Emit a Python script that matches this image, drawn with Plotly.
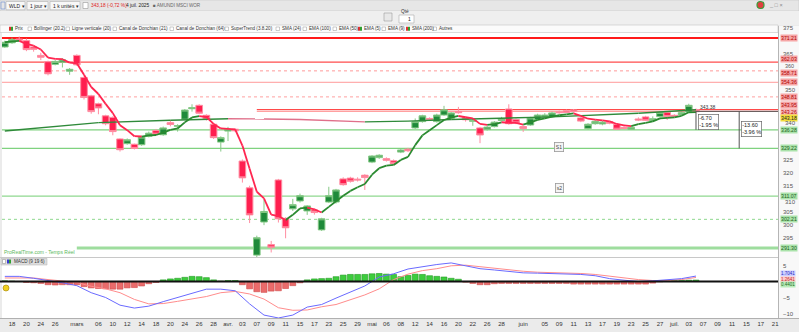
import plotly.graph_objects as go
import pandas as pd

W, H = 799, 332

# ---------------- data ----------------
dates = [
 "2025-02-17","2025-02-18","2025-02-19","2025-02-20","2025-02-21","2025-02-24","2025-02-25","2025-02-26","2025-02-27","2025-02-28",
 "2025-03-03","2025-03-04","2025-03-05","2025-03-06","2025-03-07","2025-03-10","2025-03-11","2025-03-12","2025-03-13","2025-03-14",
 "2025-03-17","2025-03-18","2025-03-19","2025-03-20","2025-03-21","2025-03-24","2025-03-25","2025-03-26","2025-03-27","2025-03-28","2025-03-31",
 "2025-04-01","2025-04-02","2025-04-03","2025-04-04","2025-04-07","2025-04-08","2025-04-09","2025-04-10","2025-04-11",
 "2025-04-14","2025-04-15","2025-04-16","2025-04-17","2025-04-22","2025-04-23","2025-04-24","2025-04-25","2025-04-28","2025-04-29","2025-04-30",
 "2025-05-02","2025-05-05","2025-05-06","2025-05-07","2025-05-08","2025-05-09","2025-05-12","2025-05-13","2025-05-14","2025-05-15","2025-05-16",
 "2025-05-19","2025-05-20","2025-05-21","2025-05-22","2025-05-23","2025-05-26","2025-05-27","2025-05-28","2025-05-29","2025-05-30",
 "2025-06-02","2025-06-03","2025-06-04","2025-06-05","2025-06-06","2025-06-09","2025-06-10","2025-06-11","2025-06-12","2025-06-13",
 "2025-06-16","2025-06-17","2025-06-18","2025-06-19","2025-06-20","2025-06-23","2025-06-24","2025-06-25","2025-06-26","2025-06-27","2025-06-30",
 "2025-07-01","2025-07-02","2025-07-03","2025-07-04","2025-07-07","2025-07-08","2025-07-09","2025-07-10","2025-07-11",
 "2025-07-14","2025-07-15","2025-07-16","2025-07-17","2025-07-18","2025-07-21",
]

opens = [367.8,369.4,370.8,370.2,367.8,364.6,362.2,361.2,362.0,358.6,
 364.6,356.2,349.2,346.2,341.6,341.0,332.8,331.0,330.8,330.6,
 333.8,336.0,334.4,339.0,337.6,340.3,344.3,345.6,341.8,338.4,
 331.6,335.8,336.5,324.4,314.2,288.6,301.2,292.6,317.2,302.6,
 306.2,309.2,305.4,305.8,298.2,308.8,308.8,317.6,317.9,317.5,
 319.0,324.0,325.7,325.3,324.5,327.8,328.9,337.0,339.4,340.6,
 339.4,341.9,340.7,343.2,340.9,339.5,337.0,336.4,337.5,339.8,
 344.2,340.2,337.5,338.1,340.2,341.1,341.3,343.1,343.5,343.8,
 340.8,336.8,338.6,338.5,339.4,338.3,337.2,336.5,340.4,341.2,
 339.8,341.3,342.9,341.8,342.0,343.1,344.0]
highs = [370.2,371.3,371.8,371.0,368.5,365.6,362.6,362.8,363.6,359.8,
 365.0,356.6,349.6,346.6,342.0,341.4,333.0,333.0,331.0,334.0,
 335.6,336.6,337.5,340.0,338.4,344.2,346.0,346.0,342.2,338.8,
 333.8,337.4,336.8,325.0,315.0,296.0,309.8,294.0,317.6,303.0,
 310.0,312.0,307.6,306.4,302.8,314.6,313.8,318.2,318.4,318.2,
 319.4,326.6,327.0,325.8,325.0,329.0,329.4,340.6,342.0,341.0,
 342.4,345.4,343.0,345.0,341.4,340.4,337.4,337.7,339.6,341.2,
 346.0,340.6,337.9,341.2,342.4,342.6,343.2,343.6,344.0,344.2,
 341.2,338.8,340.0,339.6,339.8,338.6,337.6,337.6,341.0,341.6,
 341.4,343.2,343.2,342.2,343.2,346.2,344.4]
lows = [367.5,369.0,369.8,366.2,366.0,362.8,357.0,360.8,360.0,357.2,
 360.6,347.8,342.4,342.2,338.0,334.2,328.0,330.6,328.8,330.2,
 333.4,334.2,334.0,337.6,335.6,340.0,343.2,342.2,339.8,332.8,
 328.0,332.0,335.4,316.2,300.8,287.6,300.0,289.6,301.0,295.0,
 305.4,308.6,303.9,304.0,297.8,308.4,308.2,315.0,316.2,316.6,
 313.4,323.6,325.2,324.2,323.0,327.4,327.8,336.6,339.0,339.6,
 339.0,341.6,340.3,342.4,339.4,337.8,331.2,336.0,337.2,339.4,
 338.2,338.4,335.5,337.8,339.8,340.8,341.0,342.4,342.6,342.8,
 339.2,336.4,338.2,338.0,338.4,336.2,336.4,336.2,339.6,339.6,
 339.4,341.0,340.0,341.0,341.6,342.8,342.8]
closes = [369.6,370.6,370.4,366.8,366.9,363.9,357.6,362.3,362.9,359.3,
 361.0,348.6,343.2,344.6,338.6,335.6,328.7,332.5,329.2,333.5,
 335.0,334.6,337.0,338.3,337.9,343.8,344.7,342.6,340.4,333.3,
 333.3,336.4,335.9,318.0,303.9,295.2,305.2,291.6,302.4,299.0,
 307.8,311.2,307.3,304.8,302.4,311.2,313.4,315.4,316.7,317.2,
 318.1,326.3,326.6,324.7,323.4,328.6,328.3,339.4,341.6,340.1,
 341.9,343.9,342.7,342.8,340.1,339.8,334.3,337.3,339.2,340.5,
 338.6,338.9,336.8,340.8,341.9,341.9,342.7,342.8,342.9,343.2,
 339.6,338.4,339.5,339.2,338.8,336.5,336.8,337.2,340.0,339.9,
 340.5,342.9,341.3,341.4,342.8,345.6,343.18]

# long moving average (SMA 200) read at sample days
sma200_days = ["2025-02-17","2025-03-06","2025-03-20","2025-04-01","2025-04-08","2025-04-15",
               "2025-04-30","2025-05-09","2025-05-19","2025-06-06","2025-06-24","2025-07-04"]
sma200_vals = [335.8, 339.0, 339.9, 340.5, 340.4, 340.2, 339.3, 339.6, 340.2, 341.2, 342.6, 343.9]

# MACD lines read every second session, histogram daily
macd_vals = [1.6,1.6,1.0,0.4,-0.4,-1.3,-3.5,-5.0,-7.4,-8.3,-7.7,-6.3,-5.0,-3.5,-2.4,-2.4,-2.9,-7.0,
             -10.5,-11.4,-10.5,-8.0,-7.2,-5.2,-3.4,-1.4,1.4,2.4,3.9,4.7,5.3,5.8,5.0,4.0,3.6,3.2,2.7,
             2.6,2.5,2.4,2.2,1.8,0.9,0.4,0.0,0.2,0.5,0.9,1.7]
signal_vals = [1.1,1.1,1.1,0.6,0.2,-0.3,-1.5,-2.3,-3.5,-5.6,-7.0,-6.9,-6.2,-5.4,-4.7,-3.5,-3.1,-3.9,
               -5.5,-8.2,-9.0,-8.9,-7.9,-7.2,-5.8,-4.2,-2.3,0.6,2.3,3.4,4.0,4.9,5.1,4.6,4.1,3.7,3.2,
               2.9,2.8,2.7,2.5,2.2,1.6,1.0,0.6,0.3,0.3,0.6,1.26]
macd_hist = [0.2,0.1,0.0,-0.3,-0.4,-0.6,-1.0,-1.1,-1.0,-1.0,
 -1.0,-1.6,-2.0,-2.2,-2.3,-2.4,-2.4,-2.0,-1.9,-1.4,
 -0.7,-0.3,0.5,0.8,1.0,1.3,1.6,1.5,1.2,0.5,
 0.1,0.3,0.3,-1.0,-2.3,-3.2,-3.4,-3.0,-2.9,-2.2,
 -1.3,-0.4,0.5,0.8,0.9,1.0,1.5,2.0,2.2,2.2,
 2.2,2.4,2.5,2.3,2.2,1.5,1.9,2.3,2.2,1.8,
 1.6,1.4,1.0,0.7,-0.2,-0.6,-1.0,-1.0,-0.7,-0.6,
 -0.6,-0.6,-0.6,-0.6,-0.6,-0.6,-0.6,-0.6,-0.6,-0.8,
 -0.8,-0.8,-0.8,-0.8,-0.8,-0.8,-0.8,-0.8,-0.8,-0.8,
 -0.5,-0.1,0.1,0.3,0.3,0.4,0.44]
macd_labels = ["1.7041", "1.2641", "0.4401"]

# horizontal levels
res_levels = [371.21, 362.03, 358.71, 354.36, 348.81]
sup_levels = [336.28, 329.22, 311.07, 302.21]
recent_levels = [343.95, 343.26]
floor_level = 291.30
last_price = 343.18

# price-axis ticks on the axis, and the ones that sit beside level labels
price_ticks = [295, 300, 305, 315, 320, 325, 365, 375]
nudged_ticks = [360, 350, 340, 310]

tick_dates = ["2025-02-18","2025-02-20","2025-02-24","2025-02-26","2025-03-03","2025-03-06","2025-03-10","2025-03-12",
 "2025-03-14","2025-03-18","2025-03-20","2025-03-24","2025-03-26","2025-03-28","2025-04-01","2025-04-03","2025-04-07",
 "2025-04-09","2025-04-11","2025-04-15","2025-04-17","2025-04-23","2025-04-25","2025-04-29","2025-05-02","2025-05-06",
 "2025-05-08","2025-05-12","2025-05-14","2025-05-16","2025-05-20","2025-05-22","2025-05-26","2025-05-28","2025-06-02",
 "2025-06-05","2025-06-09","2025-06-11","2025-06-13","2025-06-17","2025-06-19","2025-06-23","2025-06-25","2025-06-27",
 "2025-07-01","2025-07-03","2025-07-07","2025-07-09","2025-07-11","2025-07-15","2025-07-17","2025-07-21"]
tick_text = ["18","20","24","26","mars","06","10","12","14","18","20","24","26","28","avr.","03","07","09","11","15","17",
 "23","25","29","mai","06","08","12","14","16","20","22","26","28","juin","05","09","11","13","17","19","23","25","27",
 "juil.","03","07","09","11","15","17","21"]

# ---------------- helpers ----------------
FONT = "Liberation Sans"
xs = list(range(len(closes)))
pos = {d: i for i, d in enumerate(dates)}


def px(x):
    return x / W


def py(y):
    return 1 - y / H


def split_updown(xv, yv):
    ux, uy, dx, dy = [], [], [], []
    for k in range(len(yv) - 1):
        if yv[k + 1] >= yv[k]:
            ux += [xv[k], xv[k + 1], None]; uy += [yv[k], yv[k + 1], None]
        else:
            dx += [xv[k], xv[k + 1], None]; dy += [yv[k], yv[k + 1], None]
    return ux, uy, dx, dy


shapes = []
annos = []


def rect(x0, y0, x1, y1, fill, line=None, lw=0.6, layer="above"):
    shapes.append(dict(type="rect", xref="paper", yref="paper", x0=px(x0), x1=px(x1), y0=py(y1), y1=py(y0),
                       fillcolor=fill, line=dict(color=line or fill, width=lw if line else 0), layer=layer))


def pline(x0, y0, x1, y1, color, width=1, dash="solid", layer="above"):
    shapes.append(dict(type="line", xref="paper", yref="paper", x0=px(x0), x1=px(x1), y0=py(y0), y1=py(y1),
                       line=dict(color=color, width=width, dash=dash), layer=layer))


def text(x, y, s, size=6, color="#333", anchor="left", bg=None, border=None, font=FONT):
    a = dict(xref="paper", yref="paper", x=px(x), y=py(y), text=s, showarrow=False, xanchor=anchor,
             yanchor="middle", font=dict(family=font, size=size, color=color), borderpad=0)
    if bg:
        a["bgcolor"] = bg
    if border:
        a["bordercolor"] = border
        a["borderwidth"] = 0.6
    annos.append(a)


fig = go.Figure()

# ---------------- price panel ----------------
fig.add_trace(go.Candlestick(
    x=xs, open=opens, high=highs, low=lows, close=closes, xaxis="x", yaxis="y",
    increasing=dict(line=dict(color="#86c986", width=1), fillcolor="#1f8a3a"),
    decreasing=dict(line=dict(color="#ff8ea2", width=1), fillcolor="#ff1f4f"),
    whiskerwidth=0, hoverinfo="skip", showlegend=False))

sx = [pos[d] for d in sma200_days]
ux, uy, dx, dy = split_updown(sx, sma200_vals)
fig.add_trace(go.Scatter(x=ux, y=uy, mode="lines", line=dict(color="#2f8a3a", width=1.4), xaxis="x", yaxis="y",
                         hoverinfo="skip", showlegend=False))
fig.add_trace(go.Scatter(x=dx, y=dy, mode="lines", line=dict(color="#e0708a", width=1.4), xaxis="x", yaxis="y",
                         hoverinfo="skip", showlegend=False))

ema5 = pd.Series(closes).ewm(span=5, adjust=False).mean().tolist()
ux, uy, dx, dy = split_updown(xs, ema5)
fig.add_trace(go.Scatter(x=ux, y=uy, mode="lines", line=dict(color="#2a8a30", width=1.8), xaxis="x", yaxis="y",
                         hoverinfo="skip", showlegend=False))
fig.add_trace(go.Scatter(x=dx, y=dy, mode="lines", line=dict(color="#ff2650", width=1.8), xaxis="x", yaxis="y",
                         hoverinfo="skip", showlegend=False))

# ---------------- MACD panel ----------------
step = 2
mx = [i * step for i in range(len(macd_vals))]
hist_col = ["#3dcc3d" if v >= 0 else "#ea6b6b" for v in macd_hist]
hist_line = ["#229a22" if v >= 0 else "#d04848" for v in macd_hist]
fig.add_trace(go.Bar(x=xs, y=macd_hist, marker=dict(color=hist_col, line=dict(color=hist_line, width=0.6)),
                     width=0.82, xaxis="x2", yaxis="y2", hoverinfo="skip", showlegend=False))
fig.add_trace(go.Scatter(x=mx, y=signal_vals, mode="lines", line=dict(color="#ff8c8c", width=1),
                         xaxis="x2", yaxis="y2", hoverinfo="skip", showlegend=False))
fig.add_trace(go.Scatter(x=mx, y=macd_vals, mode="lines", line=dict(color="#6a6aff", width=1),
                         xaxis="x2", yaxis="y2", hoverinfo="skip", showlegend=False))

# ---------------- level lines ----------------
XL, XR_ = px(2), px(778)
res_style = [("#ff1a1a", 2.2, "solid"), ("#ff4d4d", 1.2, "solid"), ("#ff9a9a", 1, "dot"),
             ("#ff9a9a", 1, "solid"), ("#ffa0a0", 1, "dot")]
for v, (c, w, d) in zip(res_levels, res_style):
    shapes.append(dict(type="line", xref="paper", yref="y", x0=XL, x1=XR_, y0=v, y1=v,
                       line=dict(color=c, width=w, dash=d), layer="below"))
sup_style = [("#7fd27f", 1.2, "solid"), ("#7fd27f", 1.2, "solid"), ("#8fd88f", 1.2, "solid"), ("#8fd88f", 1, "dot")]
for v, (c, w, d) in zip(sup_levels, sup_style):
    shapes.append(dict(type="line", xref="paper", yref="y", x0=XL, x1=XR_, y0=v, y1=v,
                       line=dict(color=c, width=w, dash=d), layer="below"))
for v, (c, w) in zip(recent_levels, [("#ff4a4a", 1.4), ("#ff9c9c", 1)]):
    shapes.append(dict(type="line", xref="x", yref="y", x0=pos["2025-04-07"], x1=107.39, y0=v, y1=v,
                       line=dict(color=c, width=w), layer="below"))
shapes.append(dict(type="line", xref="x", yref="y", x0=pos["2025-03-03"], x1=107.39, y0=floor_level, y1=floor_level,
                   line=dict(color="#9edd9e", width=3), layer="below"))

# measurement tool
meas_base = 343.3
shapes.append(dict(type="line", xref="x", yref="y", x0=pos["2025-07-04"], x1=107.39, y0=meas_base, y1=meas_base,
                   line=dict(color="#555555", width=1)))
shapes.append(dict(type="line", xref="x", yref="y", x0=pos["2025-07-04"], x1=pos["2025-07-04"], y0=meas_base,
                   y1=sup_levels[0], line=dict(color="#555555", width=1)))
shapes.append(dict(type="line", xref="x", yref="y", x0=pos["2025-07-14"], x1=pos["2025-07-14"], y0=meas_base,
                   y1=sup_levels[1], line=dict(color="#555555", width=1)))
annos.append(dict(xref="x", yref="y", x=pos["2025-07-04"] + 0.25, y=339.4, text="-6.70<br>-1.95 %", showarrow=False,
                  xanchor="left", yanchor="middle", align="left", font=dict(family=FONT, size=5.5, color="#222"),
                  bgcolor="white", bordercolor="#666", borderwidth=0.7, borderpad=0.5))
annos.append(dict(xref="x", yref="y", x=pos["2025-07-14"] + 0.25, y=336.4, text="-13.60<br>-3.96 %", showarrow=False,
                  xanchor="left", yanchor="middle", align="left", font=dict(family=FONT, size=5.5, color="#222"),
                  bgcolor="white", bordercolor="#666", borderwidth=0.7, borderpad=0.5))
annos.append(dict(xref="x", yref="y", x=pos["2025-07-04"] + 0.3, y=344.9, text="343.38", showarrow=False,
                  xanchor="left", yanchor="middle", font=dict(family=FONT, size=5, color="#333")))
for lbl, yv in [("S1", 329.9), ("s2", 314.1)]:
    annos.append(dict(xref="x", yref="y", x=pos["2025-06-09"], y=yv, text=lbl, showarrow=False,
                      font=dict(family=FONT, size=5, color="#444"), bgcolor="#f4f4f4", bordercolor="#999",
                      borderwidth=0.8, borderpad=1))

# ---------------- right-side value labels ----------------
RED_BG, RED_FG = "#f6a6a6", "#b00000"
GRN_BG, GRN_FG = "#a9e2a9", "#1d5e1d"
lab = [(v, RED_BG, RED_FG, s) for v, s in zip(res_levels, [0, 3.0, -2.0, 0, 0])]
lab += [(recent_levels[0], RED_BG, RED_FG, 5.0), (recent_levels[1], "#f8b8b8", RED_FG, -0.5)]
lab += [(last_price, "#f2dc3c", "#222", -6.0)]
lab += [(v, GRN_BG, GRN_FG, 0) for v in sup_levels] + [(floor_level, GRN_BG, GRN_FG, 0)]
for v, bg, fg, sh in lab:
    annos.append(dict(xref="paper", yref="y", x=px(779.5), y=v, yshift=sh, text=f"{v:.2f}", showarrow=False,
                      xanchor="left", yanchor="middle", font=dict(family=FONT, size=5.2, color=fg),
                      bgcolor=bg, borderpad=0))
# the axis numbers that sit just beside a level label
for v, sh, fs in zip(nudged_ticks, [1.0, 3.5, -3.0, -3.5], [5.4, 6, 6, 6]):
    annos.append(dict(xref="paper", yref="y", x=px(782.5), y=v, yshift=sh, text=str(v), showarrow=False,
                      xanchor="left", yanchor="middle", font=dict(family=FONT, size=fs, color="#555")))
for s, yy, bg, fg in zip(macd_labels, [273.2, 279.0, 284.8],
                         ["#ccd0ff", "#ffcaca", "#b9ecb9"], ["#2a2ac0", "#c02a2a", "#1d6a1d"]):
    text(779.5, yy, s, size=4.5, color=fg, bg=bg)

# ---------------- chrome: backgrounds & toolbar ----------------
rect(778, 26, 799, 318, "#f8f8f8", layer="below")
pline(778.5, 26, 778.5, 318, "#b5b5b5", 1)
pline(0, 257.5, 778, 257.5, "#c8c8c8", 1)
pline(0, 318.5, 799, 318.5, "#b0b0b0", 1)
shapes.append(dict(type="line", xref="paper", yref="y2", x0=0, x1=XR_, y0=0, y1=0,
                   line=dict(color="#111", width=2)))

# top toolbar
rect(0, 0, 799, 11, "#e6e6e6", "#c8c8c8", 0.6)
rect(0, 11, 799, 25, "#efefef")
rect(1, 2, 5, 9, "#e6e6e6", "#6a8ad0", 0.6)
for (x0, x1, s) in [(6, 25, "WLD ▾"), (27, 48, "1 jour ▾"), (50, 80, "1 k unités ▾")]:
    rect(x0, 1.5, x1, 9.8, "#f8f8f8", "#aeaeae", 0.6)
    text(x0 + 2, 5.7, s, size=5, color="#222")
rect(83, 2.5, 88, 8.5, "white", "#999", 0.6)
text(89.5, 5.7, "343,18 (-0,72 %)", size=4.8, color="#e02020")
text(125, 5.7, "4 juil. 2025", size=4.8, color="#222")
text(152, 5.7, "■ AMUNDI MSCI WOR", size=4.6, color="#666")
shapes.append(dict(type="circle", xref="paper", yref="paper", x0=px(757), x1=px(764), y0=py(8.5), y1=py(1.5),
                   fillcolor="#e04040", line=dict(color="#3a9a3a", width=1.2)))
text(768, 5.5, "_ □ ×", size=5.5, color="#888")
text(400, 11.5, "Qté", size=4.8, color="#333")
rect(399, 15, 414, 23, "white", "#a8a8a8", 0.6)
text(412, 19, "1", size=5, color="#222", anchor="right")
rect(384, 13, 392, 21, "#e8e8e8", "#9a9a9a", 0.6)

# indicator tab bar
rect(0, 25, 778, 32.5, "#fbfbfb", "#c4c4c4", 0.6)
tabs = [("Prix", 14, True), ("Bollinger (20.2)", 33, False), ("Ligne verticale (20)", 71, False),
        ("Canal de Donchian (21)", 118, False), ("Canal de Donchian (64)", 175, False),
        ("SuperTrend (3.8.20)", 230, False), ("SMA (24)", 281, False), ("EMA (100)", 308, False),
        ("EMA (50)", 338, False), ("EMA (5)", 363, True), ("EMA (9)", 387, False),
        ("SMA (200)", 411, True), ("Autres", 438, False)]
for name, x0, active in tabs:
    if active:
        rect(x0 - 5, 26.8, x0 - 3, 30.8, "#e03030")
        rect(x0 - 3, 26.8, x0 - 1, 30.8, "#30a030")
    else:
        rect(x0 - 5, 27, x0 - 1.5, 30.5, "white", "#999", 0.5)
    text(x0, 28.8, name, size=4.6, color="#333")

# lower-left captions
text(3, 252, "ProRealTime.com - Temps Réel", size=5, color="#5cb85c")
rect(1, 258.5, 47, 265, "#dedede", "#b0b0b0", 0.5)
rect(2.5, 259.5, 5.5, 263.5, "white", "#888", 0.5)
rect(7, 259.5, 9, 263.5, "#3a3ad0")
rect(9, 259.5, 11, 263.5, "#30a030")
text(12.5, 261.8, "MACD (9 19 6)", size=4.6, color="#333")
shapes.append(dict(type="circle", xref="paper", yref="paper", x0=px(3), x1=px(9), y0=py(291), y1=py(285),
                   fillcolor="#f0d020", line=dict(color="#a08000", width=0.6)))

# ---------------- layout ----------------
XRANGE = [-0.39, 107.39]
tick_pos = [pos[d] for d in tick_dates]
fig.update_layout(
    width=W, height=H, margin=dict(l=0, r=0, t=0, b=0),
    paper_bgcolor="#ebebeb", plot_bgcolor="white", showlegend=False,
    font=dict(family=FONT, size=6, color="#333"),
    boxgap=0.08, boxgroupgap=0, bargap=0.1,
    xaxis=dict(domain=[px(2), px(778)], range=XRANGE, anchor="y", showticklabels=False, showgrid=False,
               zeroline=False, showline=False, ticks="", rangeslider=dict(visible=False), fixedrange=True),
    yaxis=dict(domain=[py(257), py(26)], range=[287.88, 375.78], side="right", anchor="x",
               tickvals=price_ticks, showgrid=False, zeroline=False, ticks="",
               tickfont=dict(family=FONT, size=6, color="#555"), ticklabelstandoff=4, fixedrange=True),
    xaxis2=dict(domain=[px(2), px(778)], range=XRANGE, anchor="y2", tickvals=tick_pos, ticktext=tick_text,
                tickfont=dict(family=FONT, size=6, color="#333"), showgrid=False, zeroline=False, ticks="",
                showline=False, ticklabelstandoff=1, fixedrange=True),
    yaxis2=dict(domain=[py(318), py(258)], range=[-11.41, 7.34], side="right", anchor="x2",
                tickvals=[5, -5, -10], showgrid=False, zeroline=False, ticks="",
                tickfont=dict(family=FONT, size=6, color="#555"), ticklabelstandoff=4, fixedrange=True),
    shapes=shapes, annotations=annos,
)

fig.write_html("out.html", config={"displayModeBar": False})
